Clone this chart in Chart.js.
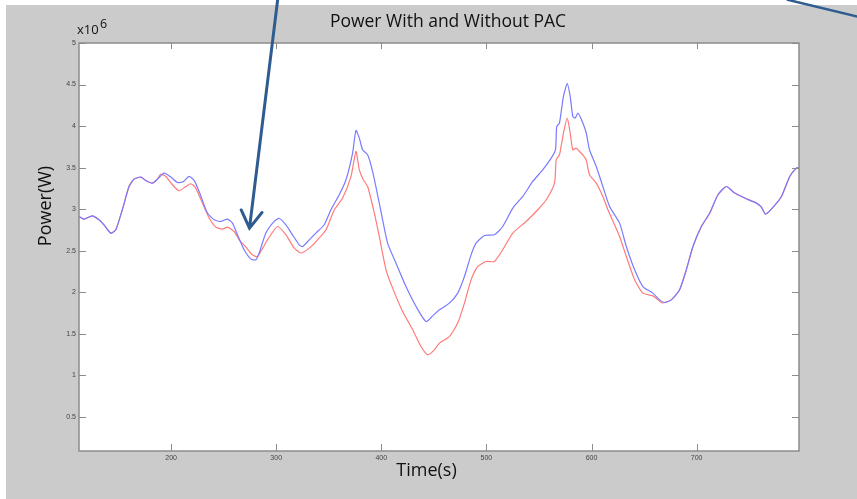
<!DOCTYPE html>
<html>
<head>
<meta charset="utf-8">
<script src="https://cdn.jsdelivr.net/npm/chart.js@4.4.1/dist/chart.umd.min.js"></script>
<style>
  html, body { margin: 0; padding: 0; background: #ffffff; }
  #wrap { position: relative; width: 857px; height: 499px; }
  canvas { position: absolute; left: 0; top: 0; }
</style>
</head>
<body>
<div id="wrap"><canvas id="c" width="857" height="499"></canvas></div>
<script>
// ---------- data (power in units of 10^6 W) ----------
const chartTitle = "Power With and Without PAC";
const xAxisTitle = "Time(s)";
const yAxisTitle = "Power(W)";
const xTickValues = [200, 300, 400, 500, 600, 700];
const yTickValues = [0.5, 1, 1.5, 2, 2.5, 3, 3.5, 4, 4.5, 5];
const xRange = [112.4, 797.4];
const yRange = [0.087, 5];

// blue trace
const timeWithoutPAC = [112.4,117.2,125.1,131.4,136.2,142.6,147.4,153.6,160.0,164.8,171.2,175.9,182.2,187.0,193.4,199.7,206.0,211.4,217.2,221.9,226.7,234.6,241.0,247.4,253.6,258.4,263.2,269.5,276.0,280.7,283.8,290.2,298.1,302.9,309.3,315.5,321.9,325.1,331.5,337.8,345.7,352.1,360.0,366.4,372.7,375.9,379.1,382.2,387.0,391.7,398.1,406.0,414.0,423.5,433.1,442.6,448.9,455.3,464.8,472.7,479.1,485.4,490.2,498.1,507.6,515.5,525.1,534.6,544.1,553.6,561.6,565.7,566.9,569.5,573.3,576.9,579.7,582.2,584.5,587.0,590.2,595.0,598.1,604.5,610.8,617.2,626.7,633.1,641.0,648.9,658.4,664.8,669.5,675.9,683.8,690.2,696.5,704.5,712.5,720.3,728.3,736.2,745.7,756.9,761.6,765.4,771.1,780.7,788.6,794.9,797.4];
const powerWithoutPAC = [2.911,2.880,2.919,2.871,2.811,2.711,2.751,2.992,3.272,3.361,3.386,3.345,3.313,3.361,3.434,3.386,3.320,3.329,3.393,3.345,3.212,2.952,2.871,2.851,2.880,2.831,2.690,2.510,2.398,2.389,2.470,2.711,2.851,2.887,2.811,2.690,2.570,2.549,2.630,2.711,2.811,2.992,3.172,3.353,3.675,3.947,3.855,3.714,3.654,3.453,3.072,2.590,2.349,2.067,1.827,1.646,1.714,1.787,1.867,1.988,2.188,2.449,2.590,2.682,2.690,2.790,3.012,3.152,3.333,3.473,3.614,3.714,3.995,4.036,4.357,4.510,4.357,4.116,4.096,4.157,4.084,3.916,3.714,3.513,3.272,3.031,2.831,2.549,2.269,2.067,1.988,1.907,1.875,1.907,2.028,2.269,2.549,2.790,2.952,3.172,3.272,3.193,3.133,3.072,3.024,2.940,3.000,3.152,3.393,3.494,3.501];

// red trace
const timeWithPAC = [112.4,117.2,125.1,131.4,136.2,142.6,147.4,153.6,160.0,164.8,171.2,175.9,182.2,187.0,190.2,195.0,201.3,207.6,214.0,218.8,223.5,229.8,236.2,242.6,248.9,253.6,260.0,264.8,271.2,277.4,282.2,291.7,301.3,309.3,317.2,323.6,331.5,339.4,347.4,355.3,363.2,371.2,375.9,379.1,382.9,387.0,393.4,398.1,404.5,410.8,420.3,429.9,437.8,444.1,450.5,455.3,464.8,472.7,479.1,485.4,491.7,499.7,507.6,515.5,525.1,537.8,548.9,556.9,564.8,566.4,569.5,573.3,576.9,579.7,582.2,585.4,588.5,591.7,594.9,598.1,604.5,610.8,615.6,626.7,633.1,641.0,648.9,658.4,666.4,669.5,675.9,683.8,690.2,696.5,704.5,712.5,720.3,728.3,736.2,745.7,756.9,761.6,765.4,771.1,780.7,788.6,794.9,797.4];
const powerWithPAC = [2.911,2.880,2.919,2.871,2.811,2.711,2.751,2.992,3.272,3.361,3.386,3.345,3.313,3.361,3.422,3.393,3.293,3.220,3.272,3.305,3.253,3.072,2.892,2.783,2.759,2.783,2.730,2.630,2.542,2.449,2.429,2.630,2.790,2.690,2.530,2.471,2.530,2.630,2.751,2.992,3.133,3.393,3.694,3.473,3.353,3.272,2.952,2.670,2.269,2.048,1.766,1.546,1.345,1.245,1.305,1.386,1.465,1.627,1.867,2.148,2.308,2.369,2.369,2.510,2.711,2.851,2.992,3.112,3.313,3.594,3.654,3.916,4.096,3.916,3.714,3.735,3.694,3.654,3.594,3.413,3.313,3.152,2.992,2.670,2.429,2.149,1.988,1.955,1.875,1.875,1.907,2.028,2.269,2.549,2.790,2.952,3.172,3.272,3.193,3.133,3.072,3.024,2.940,3.000,3.152,3.393,3.494,3.501];

// annotation arrows, in data coordinates [x, y]
const arrowMain = { from: [301.4, 5.52], to: [274.6, 2.77] };
const lineCorner = { from: [786.7, 5.52], to: [853.4, 5.317] };

// ---------- styling ----------
const GRAY_BG = '#cbcbcb';
const AXIS_COLOR = '#8c8c8c';
const ARROW_COLOR = '#2f5c90';
const FONT = '"Open Sans", "DejaVu Sans", sans-serif';

const toXY = (ts, vs) => ts.map((t, i) => ({ x: t, y: vs[i] }));

const decorPlugin = {
  id: 'decor',
  beforeDraw(chart) {
    const { ctx, chartArea: a } = chart;
    ctx.save();
    ctx.fillStyle = '#ffffff';
    ctx.fillRect(0, 0, chart.width, chart.height);
    ctx.fillStyle = GRAY_BG;
    ctx.fillRect(6, 5, chart.width - 6, chart.height - 5);
    ctx.fillStyle = '#ffffff';
    ctx.fillRect(a.left, a.top, a.right - a.left, a.bottom - a.top);
    ctx.restore();
  },
  afterDatasetsDraw(chart) {
    const { ctx, chartArea: a, scales } = chart;
    const xs = scales.x, ys = scales.y;
    ctx.save();
    // box
    ctx.strokeStyle = AXIS_COLOR;
    ctx.lineWidth = 1.5;
    ctx.strokeRect(a.left, a.top, a.right - a.left, a.bottom - a.top);
    // inward ticks
    ctx.lineWidth = 1;
    ctx.beginPath();
    xTickValues.forEach(v => {
      const px = Math.round(xs.getPixelForValue(v)) + 0.5;
      ctx.moveTo(px, a.bottom); ctx.lineTo(px, a.bottom - 7);
      ctx.moveTo(px, a.top); ctx.lineTo(px, a.top + 6);
    });
    yTickValues.forEach(v => {
      const py = Math.round(ys.getPixelForValue(v)) + 0.5;
      ctx.moveTo(a.left, py); ctx.lineTo(a.left + 7, py);
      ctx.moveTo(a.right, py); ctx.lineTo(a.right - 7, py);
    });
    ctx.stroke();

    // texts
    ctx.fillStyle = '#111111';
    ctx.textBaseline = 'middle';
    ctx.textAlign = 'center';
    ctx.font = '17.5px ' + FONT;
    ctx.fillText(chartTitle, 448, 22);
    ctx.font = '18px ' + FONT;
    ctx.fillText(xAxisTitle, 426.5, 471);
    ctx.save();
    ctx.translate(46, 206);
    ctx.rotate(-Math.PI / 2);
    ctx.fillText(yAxisTitle, 0, 0);
    ctx.restore();
    // exponent label
    ctx.textAlign = 'left';
    ctx.textBaseline = 'alphabetic';
    ctx.font = '13px ' + FONT;
    ctx.fillText('x10', 77, 34);
    ctx.font = '12.5px ' + FONT;
    ctx.fillText('6', 100, 27.5);

    // arrows
    ctx.strokeStyle = ARROW_COLOR;
    ctx.lineCap = 'round';
    const P = (d) => [xs.getPixelForValue(d[0]), ys.getPixelForValue(d[1])];
    const [fx, fy] = P(arrowMain.from), [tx, ty] = P(arrowMain.to);
    ctx.lineWidth = 3;
    ctx.beginPath();
    ctx.moveTo(fx, fy); ctx.lineTo(tx, ty);
    const ang = Math.atan2(fy - ty, fx - tx);
    const wing = 20, spread = 0.55;
    ctx.moveTo(tx + wing * Math.cos(ang + spread), ty + wing * Math.sin(ang + spread));
    ctx.lineTo(tx, ty);
    ctx.lineTo(tx + wing * Math.cos(ang - spread), ty + wing * Math.sin(ang - spread));
    ctx.stroke();
    const [gx, gy] = P(lineCorner.from), [hx, hy] = P(lineCorner.to);
    ctx.lineWidth = 2.5;
    ctx.beginPath();
    ctx.moveTo(gx, gy); ctx.lineTo(hx, hy);
    ctx.stroke();
    ctx.restore();
  }
};

new Chart(document.getElementById('c'), {
  type: 'line',
  data: {
    datasets: [
      {
        label: 'Without PAC',
        data: toXY(timeWithoutPAC, powerWithoutPAC),
        borderColor: '#7a7aff',
        borderWidth: 1.2,
        pointRadius: 0,
        tension: 0.2,
        fill: false
      },
      {
        label: 'With PAC',
        data: toXY(timeWithPAC, powerWithPAC),
        borderColor: '#ff7a7a',
        borderWidth: 1.2,
        pointRadius: 0,
        tension: 0.2,
        fill: false
      }
    ]
  },
  options: {
    responsive: false,
    animation: false,
    events: [],
    layout: { padding: { left: 0, top: 43, right: 58, bottom: 0 } },
    plugins: {
      legend: { display: false },
      title: { display: false },
      tooltip: { enabled: false }
    },
    scales: {
      x: {
        type: 'linear',
        min: xRange[0],
        max: xRange[1],
        afterBuildTicks(s) { s.ticks = xTickValues.map(v => ({ value: v })); },
        afterFit(s) { s.height = 48; },
        grid: { display: false, drawTicks: false },
        border: { display: false },
        ticks: {
          padding: 3,
          color: '#444444',
          font: { size: 7, family: 'Liberation Sans' },
          maxRotation: 0,
          callback: v => String(v)
        }
      },
      y: {
        type: 'linear',
        min: yRange[0],
        max: yRange[1],
        afterBuildTicks(s) { s.ticks = yTickValues.map(v => ({ value: v })); },
        afterFit(s) { s.width = 79; },
        grid: { display: false, drawTicks: false },
        border: { display: false },
        ticks: {
          padding: 3,
          color: '#444444',
          font: { size: 7, family: 'Liberation Sans' },
          callback: v => String(v)
        }
      }
    }
  },
  plugins: [decorPlugin]
});
</script>
</body>
</html>
